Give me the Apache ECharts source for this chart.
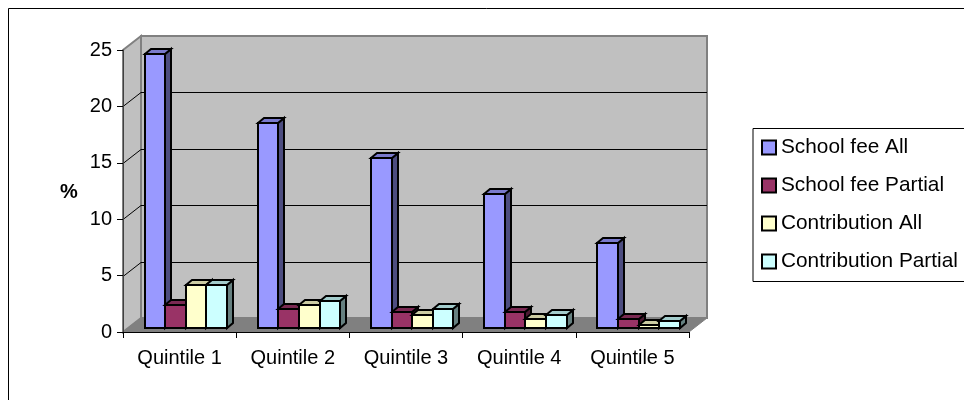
<!DOCTYPE html>
<html>
<head>
<meta charset="utf-8">
<style>html,body{margin:0;padding:0;background:#fff}#c{width:964px;height:400px}</style>
<script src="https://cdn.jsdelivr.net/npm/echarts@6/dist/echarts.min.js"></script>
</head>
<body>
<div id="c"></div>
<script>
// Share of households per income quintile
const categories = ['Quintile 1', 'Quintile 2', 'Quintile 3', 'Quintile 4', 'Quintile 5'];
const yTicks = [5, 10, 15, 20];
const schoolFeeAll = [24.3, 18.2, 15.1, 11.9, 7.5];
const schoolFeePartial = [2.0, 1.7, 1.4, 1.4, 0.8];
const contributionAll = [3.8, 2.0, 1.15, 0.8, 0.3];
const contributionPartial = [3.8, 2.4, 1.7, 1.15, 0.6];

const FONT = '"Liberation Sans", Arial, sans-serif';
// Oblique projection of the box: depth of the whole floor and of one bar
const BOX = { dx: 18, dy: -14 };
const BAR_OFFSET = { dx: 6.2, dy: -4 };
const BAR_DEPTH = { dx: 6, dy: -5 };

const palette = [
  { name: 'School fee All', values: schoolFeeAll, front: '#9999FF', top: '#7A7ACC', side: '#4D4D80' },
  { name: 'School fee Partial', values: schoolFeePartial, front: '#993366', top: '#7A2952', side: '#4D1A33' },
  { name: 'Contribution All', values: contributionAll, front: '#FFFFCC', top: '#CCCCA3', side: '#808066' },
  { name: 'Contribution Partial', values: contributionPartial, front: '#CCFFFF', top: '#A3CCCC', side: '#668080' }
];

const poly = (points, fill, stroke, width) => ({
  type: 'polygon',
  shape: { points },
  style: { fill, stroke, lineWidth: width }
});

// Back wall, side wall and floor
function renderRoom(params) {
  const g = params.coordSys;
  const l = g.x, r = g.x + g.width, t = g.y, b = g.y + g.height;
  const { dx, dy } = BOX;
  const grey = '#808080';
  return {
    type: 'group',
    children: [
      poly([[l + dx, t + dy], [r + dx, t + dy], [r + dx, b + dy], [l + dx, b + dy]], '#C0C0C0', grey, 2),
      poly([[l, t], [l + dx, t + dy], [l + dx, b + dy], [l, b]], '#C0C0C0', grey, 2),
      poly([[l, b], [l + dx, b + dy], [r + dx, b + dy], [r, b]], grey, grey, 1)
    ]
  };
}

// Grid line wrapping from the side wall onto the back wall
function renderGridLine(params, api) {
  const g = params.coordSys;
  const y = Math.round(api.coord([0, api.value(0)])[1]) + 0.5;
  const { dx, dy } = BOX;
  return {
    type: 'polyline',
    shape: { points: [[g.x, y], [g.x + dx, y + dy], [g.x + g.width + dx, y + dy]] },
    style: { fill: 'none', stroke: '#000', lineWidth: 1 }
  };
}

// One 3D bar: front face, top face and right-hand side, snapped to whole pixels
function barRenderer(seriesIndex, colors) {
  return function (params, api) {
    const cat = api.value(0);
    const band = api.size([1, 0])[0];
    const w = band / 5.5;
    const base = api.coord([cat, 0]);
    const top = api.coord([cat, api.value(1)]);
    const x0 = Math.round(base[0] - 2 * w + seriesIndex * w + BAR_OFFSET.dx);
    const x1 = Math.round(base[0] - 2 * w + (seriesIndex + 1) * w + BAR_OFFSET.dx);
    const y0 = Math.round(top[1] + BAR_OFFSET.dy);
    const y1 = Math.round(base[1] + BAR_OFFSET.dy);
    const d = BAR_DEPTH;
    const lw = 2;
    return {
      type: 'group',
      children: [
        poly([[x1, y0], [x1 + d.dx, y0 + d.dy], [x1 + d.dx, y1 + d.dy], [x1, y1]], colors.side, '#000', lw),
        poly([[x0, y0], [x0 + d.dx, y0 + d.dy], [x1 + d.dx, y0 + d.dy], [x1, y0]], colors.top, '#000', lw),
        poly([[x0, y0], [x1, y0], [x1, y1], [x0, y1]], colors.front, '#000', lw)
      ]
    };
  };
}

const barSeries = palette.map((s, i) => ({
  name: s.name,
  type: 'custom',
  z: 3,
  renderItem: barRenderer(i, s),
  itemStyle: { color: s.front },
  encode: { x: 0, y: 1 },
  data: s.values.map((v, c) => [c, v])
}));

const chart = echarts.init(document.getElementById('c'), null, { renderer: 'canvas' });
chart.setOption({
  animation: false,
  backgroundColor: '#fff',
  textStyle: { fontFamily: FONT },
  graphic: [
    { type: 'rect', z: 0, silent: true, shape: { x: 8.5, y: 8.5, width: 1000, height: 500 },
      style: { fill: '#fff', stroke: '#000', lineWidth: 1 } },
    { type: 'rect', z: 0, silent: true, shape: { x: 753, y: 128.5, width: 400, height: 153 },
      style: { fill: '#fff', stroke: '#000', lineWidth: 1 } },
    { type: 'text', z: 5, silent: true, x: 60, y: 182,
      style: { text: '%', fill: '#000', font: 'bold 20px ' + FONT } }
  ],
  grid: { left: 123, top: 50, width: 566, height: 282, containLabel: false },
  xAxis: {
    type: 'category',
    data: categories,
    z: 6,
    axisLine: { lineStyle: { color: '#000', width: 1 } },
    axisTick: { show: true, length: 6, alignWithLabel: false, lineStyle: { color: '#000' } },
    axisLabel: { color: '#000', fontSize: 20, fontFamily: FONT, margin: 16 },
    splitLine: { show: false }
  },
  yAxis: {
    type: 'value',
    min: 0,
    max: 25,
    interval: 5,
    z: 6,
    axisLine: { show: true, lineStyle: { color: '#404040', width: 1 } },
    axisTick: { show: true, length: 6, lineStyle: { color: '#000' } },
    axisLabel: { color: '#000', fontSize: 20, fontFamily: FONT, margin: 11 },
    splitLine: { show: false }
  },
  legend: {
    orient: 'vertical',
    left: 756,
    top: 132,
    itemWidth: 14,
    itemHeight: 14,
    itemGap: 17,
    icon: 'rect',
    selectedMode: false,
    textStyle: { color: '#000', fontSize: 20.8, fontFamily: FONT, padding: [0, 0, 7, 0] },
    data: palette.map(s => ({
      name: s.name,
      icon: 'rect',
      itemStyle: { color: s.front, borderColor: '#000', borderWidth: 2 }
    }))
  },
  series: [
    { type: 'custom', z: 1, silent: true, renderItem: renderRoom, data: [[0]], encode: { x: 0 } },
    { type: 'custom', z: 2, silent: true, renderItem: renderGridLine, data: yTicks.map(v => [v]), encode: { y: 0 } }
  ].concat(barSeries)
});
</script>
</body>
</html>
